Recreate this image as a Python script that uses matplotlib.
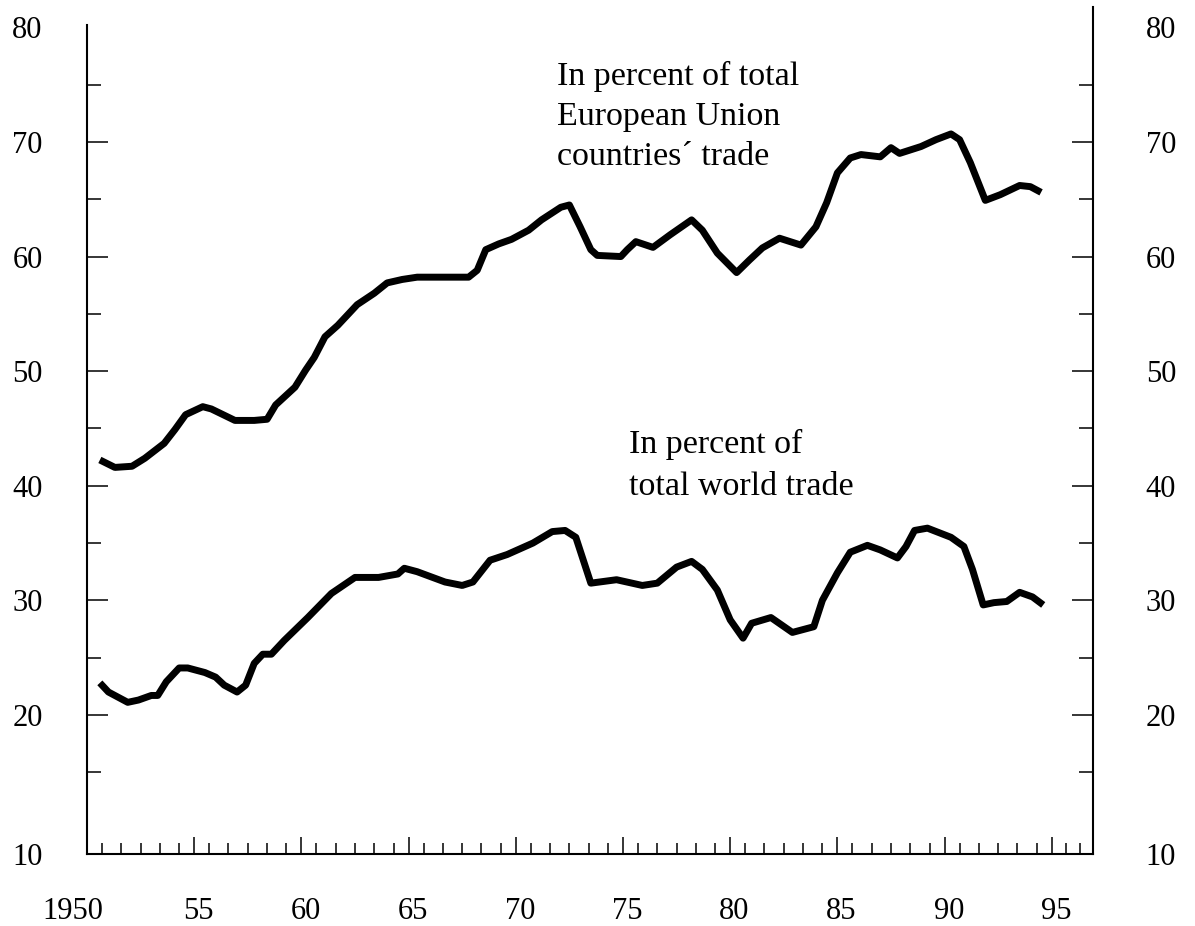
import matplotlib
matplotlib.use("Agg")
import matplotlib.pyplot as plt
import matplotlib.transforms as mtransforms

# EU share, in percent of total European Union countries' trade
eu_years = [1950.6, 1951.3, 1952.1, 1952.7, 1953.6, 1954.1, 1954.6, 1955.4, 1955.8,
            1956.9, 1957.8, 1958.4, 1958.8, 1959.7, 1960.2, 1960.6, 1961.1, 1961.7,
            1962.6, 1963.4, 1964.0, 1964.7, 1965.4, 1967.8, 1968.2, 1968.6, 1969.2,
            1969.8, 1970.6, 1971.2, 1972.1, 1972.5, 1973.0, 1973.5, 1973.8, 1974.9,
            1975.2, 1975.6, 1976.4, 1977.2, 1978.2, 1978.7, 1979.4, 1980.3, 1980.9,
            1981.5, 1982.3, 1983.3, 1984.0, 1984.5, 1985.0, 1985.6, 1986.1, 1987.0,
            1987.5, 1987.9, 1988.9, 1989.6, 1990.3, 1990.7, 1991.2, 1991.9, 1992.6,
            1993.5, 1994.0, 1994.5]
eu_values = [42.25, 41.6, 41.7, 42.4, 43.7, 44.9, 46.2, 46.9, 46.7,
             45.7, 45.7, 45.8, 47.05, 48.6, 50.1, 51.2, 53.0, 54.0,
             55.8, 56.8, 57.7, 58.0, 58.2, 58.2, 58.8, 60.6, 61.1,
             61.5, 62.3, 63.2, 64.3, 64.5, 62.6, 60.6, 60.1, 60.0,
             60.6, 61.3, 60.8, 61.9, 63.2, 62.3, 60.3, 58.6, 59.7,
             60.75, 61.6, 61.0, 62.6, 64.7, 67.3, 68.6, 68.9, 68.7,
             69.5, 69.0, 69.6, 70.2, 70.7, 70.2, 68.2, 64.9, 65.4,
             66.2, 66.1, 65.6]

# share in percent of total world trade
world_years = [1950.6, 1951.0, 1951.9, 1952.4, 1953.0, 1953.3, 1953.7, 1954.3, 1954.7,
               1955.5, 1956.0, 1956.4, 1957.0, 1957.4, 1957.8, 1958.2, 1958.6, 1959.2,
               1960.3, 1961.4, 1962.5, 1963.6, 1964.5, 1964.8, 1965.4, 1966.7, 1967.5,
               1968.0, 1968.8, 1969.6, 1970.8, 1971.7, 1972.3, 1972.8, 1973.5, 1974.7,
               1975.9, 1976.6, 1977.5, 1978.2, 1978.7, 1979.4, 1980.0, 1980.6, 1981.0,
               1981.9, 1982.9, 1983.9, 1984.3, 1985.0, 1985.6, 1986.4, 1987.0, 1987.8,
               1988.2, 1988.6, 1989.2, 1990.3, 1990.9, 1991.3, 1991.8, 1992.3, 1992.9,
               1993.5, 1994.1, 1994.6]
world_values = [22.8, 22.0, 21.1, 21.3, 21.7, 21.7, 22.9, 24.1, 24.1,
                23.7, 23.3, 22.6, 22.0, 22.6, 24.5, 25.3, 25.3, 26.5,
                28.5, 30.6, 32.0, 32.0, 32.3, 32.8, 32.5, 31.6, 31.3,
                31.6, 33.5, 34.0, 35.0, 36.0, 36.1, 35.5, 31.5, 31.8,
                31.3, 31.5, 32.9, 33.4, 32.7, 30.9, 28.3, 26.7, 28.0,
                28.5, 27.2, 27.7, 30.0, 32.4, 34.2, 34.8, 34.4, 33.7,
                34.7, 36.1, 36.3, 35.5, 34.7, 32.7, 29.6, 29.8, 29.9,
                30.7, 30.3, 29.6]

year_ticks = [1950, 1955, 1960, 1965, 1970, 1975, 1980, 1985, 1990, 1995]
year_labels = ["1950", "55", "60", "65", "70", "75", "80", "85", "90", "95"]
value_labels = ["10", "20", "30", "40", "50", "60", "70", "80"]

plt.rcParams["font.family"] = ["Liberation Serif", "DejaVu Serif"]

fig = plt.figure(figsize=(11.95, 9.26), dpi=100)
ax = fig.add_axes([0.0728, 0.0778, 0.8418, 0.9147])

ybot, ytop = 7.87, 81.78
ax.set_xlim(1950, 1996.92)
ax.set_ylim(ybot, ytop)

ax.plot(eu_years, eu_values, color="black", lw=5, solid_joinstyle="round",
        solid_capstyle="butt")
ax.plot(world_years, world_values, color="black", lw=5, solid_joinstyle="round",
        solid_capstyle="butt")

ax.text(1971.9, 77.1, "In percent of total\nEuropean Union\ncountries\u00b4 trade",
        fontsize=24.5, va="top", ha="left", linespacing=1.42)
ax.text(1975.3, 44.95, "In percent of\ntotal world trade",
        fontsize=24.5, va="top", ha="left", linespacing=1.5)

# spines
ax.spines["top"].set_visible(False)
for s in ["left", "right", "bottom"]:
    ax.spines[s].set_linewidth(1.5)
ax.spines["left"].set_bounds(ybot, 80.2)

# x ticks
ax.set_xticks(year_ticks, year_labels)
minor_x = []
for y0 in year_ticks[:-1]:
    minor_x += [y0 + o for o in (0.7, 1.6, 2.5, 3.4, 4.3)]
minor_x += [1995.65, 1996.3]
ax.set_xticks(minor_x, minor=True)

# y ticks
ax.set_yticks([ybot, 20, 30, 40, 50, 60, 70, 80], value_labels)
ax.set_yticks([15, 25, 35, 45, 55, 65, 75], minor=True)

ax.tick_params(axis="x", which="major", direction="in", length=12, width=1.1,
               pad=31, labelsize=22, top=False)
ax.tick_params(axis="x", which="minor", direction="in", length=8, width=1.1, top=False)
ax.tick_params(axis="y", which="major", direction="in", length=15, width=1.1,
               pad=32, labelsize=22, left=True, right=True, labelleft=True,
               labelright=True)
ax.tick_params(axis="y", which="minor", direction="in", length=10, width=1.1,
               left=True, right=True)

# hide tick marks at the ends (10 and 80 only carry labels)
yt = ax.yaxis.get_major_ticks()
for t in (yt[0], yt[-1]):
    t.tick1line.set_visible(False)
    t.tick2line.set_visible(False)

# right labels sit a bit further from the axis
off = mtransforms.ScaledTranslation(6 / 72, 0, fig.dpi_scale_trans)
for t in yt:
    t.label2.set_transform(t.label2.get_transform() + off)

# year labels sit slightly right of their ticks, except 1950
xoff = mtransforms.ScaledTranslation(3 / 72, 0, fig.dpi_scale_trans)
x1950 = mtransforms.ScaledTranslation(-10 / 72, 0, fig.dpi_scale_trans)
for i, t in enumerate(ax.xaxis.get_major_ticks()):
    t.label1.set_transform(t.label1.get_transform() + (x1950 if i == 0 else xoff))

fig.savefig("out.png", dpi=100)
